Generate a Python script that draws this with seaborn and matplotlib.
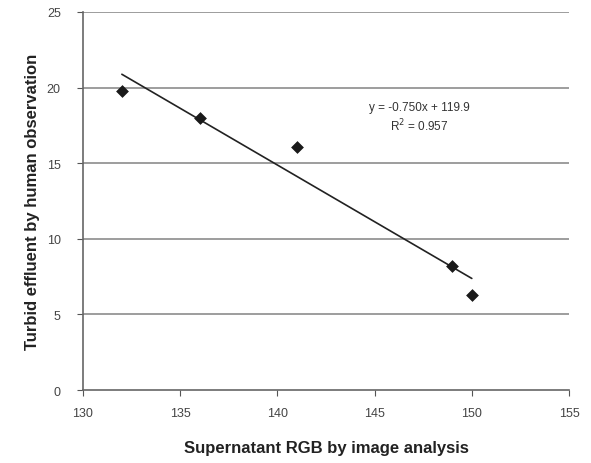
import matplotlib
matplotlib.use("Agg")
import matplotlib.pyplot as plt
import seaborn as sns
import numpy as np
import pandas as pd

rgb = [132, 136, 141, 149, 150]
turbid = [19.8, 18.0, 16.1, 8.2, 6.3]
x_ticks = [130, 135, 140, 145, 150, 155]
y_ticks = [0, 5, 10, 15, 20, 25]

sns.set_style("white")
plt.rcParams['font.family'] = ['Liberation Sans', 'DejaVu Sans']

df = pd.DataFrame({"rgb": rgb, "turbid": turbid})

fig = plt.figure(figsize=(5.91, 4.64), dpi=100)
ax = fig.add_axes([0.1404, 0.1573, 0.8224, 0.8147])

for yv in y_ticks[1:]:
    ax.axhline(yv, color="#8c8c8c", lw=1.2, zorder=0)

sns.regplot(data=df, x="rgb", y="turbid", ci=None, ax=ax,
            marker="D", scatter_kws=dict(s=36, color="#1a1a1a", edgecolors="#1a1a1a",
                                         linewidths=0.5, alpha=1, zorder=3),
            line_kws=dict(color="#222222", lw=1.2, zorder=2))

ax.set_xlim(130, 155)
ax.set_ylim(0, 25)
ax.set_xticks(x_ticks)
ax.set_yticks(y_ticks)
ax.tick_params(axis="both", labelsize=9, colors="#555555", length=4, direction="out",
               bottom=True, left=True)
ax.tick_params(axis="x", pad=8)
ax.tick_params(axis="y", pad=12)
for lab in ax.get_xticklabels() + ax.get_yticklabels():
    lab.set_color("#444444")
for s in ["top", "right"]:
    ax.spines[s].set_visible(False)
for s in ["left", "bottom"]:
    ax.spines[s].set_color("#666666")
    ax.spines[s].set_linewidth(1.2)

ax.set_xlabel("Supernatant RGB by image analysis", fontsize=12, fontweight="bold",
              color="#222222", labelpad=15)
ax.set_ylabel("Turbid effluent by human observation", fontsize=12, fontweight="bold",
              color="#222222", labelpad=5)

ax.text(147.3, 18.7, "y = -0.750x + 119.9", fontsize=8.5, ha="center", va="center", color="#333333")
ax.text(147.3, 17.55, "R$^2$ = 0.957", fontsize=8.5, ha="center", va="center", color="#333333")

fig.savefig("out.png", dpi=100)
